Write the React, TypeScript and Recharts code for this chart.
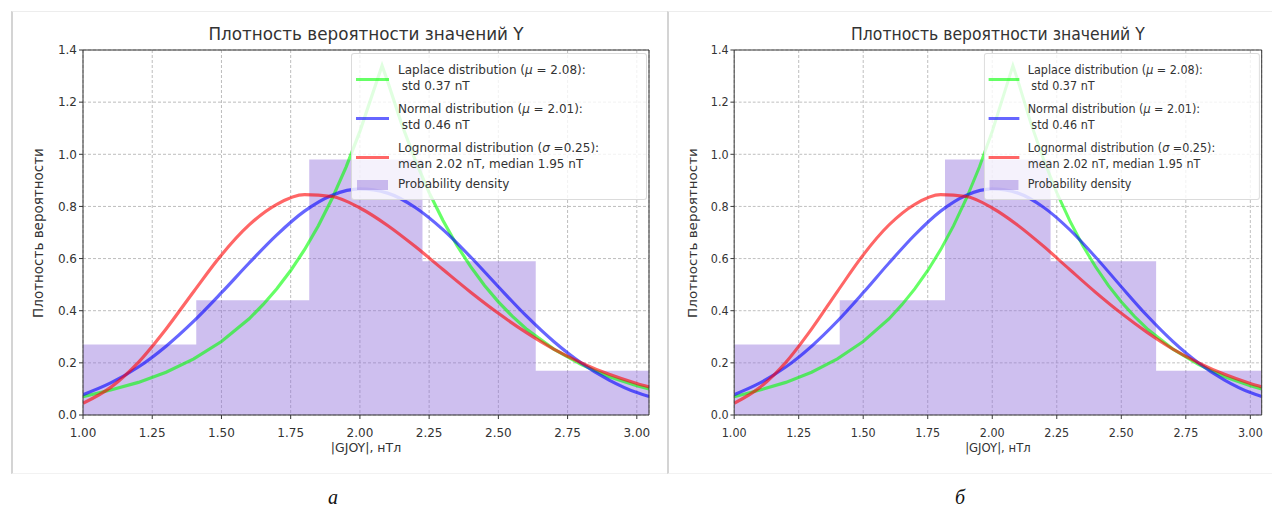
import React from 'react';
import { ComposedChart, Area, Line, XAxis, YAxis, CartesianGrid, ReferenceLine } from 'recharts';

// histogram (bin edges + density)
const histEdges = [1.0, 1.409, 1.817, 2.226, 2.635, 3.044];
const histDensity = [0.27, 0.44, 0.98, 0.59, 0.17];

// normal / lognormal curves
const curveX = [1.0, 1.1, 1.2, 1.3, 1.4, 1.5, 1.6, 1.7, 1.8, 1.9, 2.0, 2.1, 2.2, 2.3, 2.4, 2.5, 2.6, 2.7, 2.8, 2.9, 3.0, 3.044];
const normalY = [0.078, 0.123, 0.184, 0.264, 0.36, 0.469, 0.583, 0.691, 0.782, 0.843, 0.867, 0.851, 0.796, 0.711, 0.606, 0.492, 0.381, 0.282, 0.199, 0.134, 0.086, 0.071];
const lognormalY = [0.045, 0.106, 0.202, 0.33, 0.474, 0.614, 0.729, 0.808, 0.845, 0.838, 0.794, 0.727, 0.646, 0.558, 0.471, 0.39, 0.317, 0.253, 0.2, 0.156, 0.121, 0.108];

// laplace has a sharp peak, so it gets its own x points
const laplaceX = [1.0, 1.1, 1.2, 1.3, 1.4, 1.5, 1.6, 1.65, 1.7, 1.75, 1.8, 1.85, 1.9, 1.95, 2.0, 2.05, 2.08, 2.1, 2.15, 2.2, 2.25, 2.3, 2.35, 2.4, 2.45, 2.5, 2.55, 2.6, 2.7, 2.8, 2.9, 3.0, 3.044];
const laplaceY = [0.07, 0.096, 0.125, 0.164, 0.215, 0.282, 0.369, 0.423, 0.484, 0.554, 0.634, 0.726, 0.831, 0.951, 1.088, 1.246, 1.34, 1.28, 1.118, 0.977, 0.853, 0.746, 0.651, 0.569, 0.497, 0.434, 0.379, 0.331, 0.253, 0.193, 0.147, 0.112, 0.1];

const xTicks = [1.0, 1.25, 1.5, 1.75, 2.0, 2.25, 2.5, 2.75, 3.0];
const yTicks = [0, 0.2, 0.4, 0.6, 0.8, 1.0, 1.2, 1.4];

const title = 'Плотность вероятности значений Y';
const xLabel = '|GJOY|, нТл';
const yLabel = 'Плотность вероятности';

type Row = { x: number; laplace?: number; normal?: number; lognormal?: number; hist?: number };

function buildRows(): Row[] {
  const m = new Map<string, Row>();
  const get = (x: number) => {
    const k = x.toFixed(3);
    let r = m.get(k);
    if (!r) {
      r = { x };
      m.set(k, r);
    }
    return r;
  };
  curveX.forEach((x, i) => {
    get(x).normal = normalY[i];
    get(x).lognormal = lognormalY[i];
  });
  laplaceX.forEach((x, i) => {
    get(x).laplace = laplaceY[i];
  });
  histEdges.forEach((x) => get(x));
  const rows = [...m.values()].sort((a, b) => a.x - b.x);
  rows.forEach((r) => {
    let idx = histDensity.findIndex((_, j) => r.x >= histEdges[j] && r.x < histEdges[j + 1]);
    if (idx < 0) idx = histDensity.length - 1;
    r.hist = histDensity[idx];
  });
  return rows;
}

const rows = buildRows();

const FONT = '"DejaVu Sans", sans-serif';
const TXT = '#333';

const legendItems = [
  { color: 'rgba(0,255,0,0.6)', lines: [<>Laplace distribution (<i>μ</i> = 2.08):</>, <>&nbsp;std 0.37 nT</>], cy: 25 },
  { color: 'rgba(0,0,255,0.6)', lines: [<>Normal distribution (<i>μ</i> = 2.01):</>, <>&nbsp;std 0.46 nT</>], cy: 64 },
  { color: 'rgba(255,0,0,0.6)', lines: [<>Lognormal distribution (<i>σ</i> =0.25):</>, <>mean 2.02 nT, median 1.95 nT</>], cy: 103 },
  { color: 'patch', lines: [<>Probability density</>], cy: 131 },
];

function Panel({ left, scale }: { left: number; scale: number }) {
  const W = 656;
  const H = 460;
  return (
    <div
      style={{
        position: 'absolute',
        left,
        top: 12,
        width: W,
        height: H,
        transform: `scaleX(${scale})`,
        transformOrigin: 'left top',
        fontFamily: FONT,
      }}
    >
      <ComposedChart width={W} height={H} data={rows} margin={{ top: 38, right: 19, bottom: 27, left: 0 }}>
        <CartesianGrid stroke="#bdbdbd" strokeDasharray="3 2" />
        <XAxis
          dataKey="x"
          type="number"
          domain={[1, 3.044]}
          ticks={xTicks}
          allowDataOverflow
          tickFormatter={(v: number) => v.toFixed(2)}
          tick={{ fill: TXT, fontSize: 12, fontFamily: FONT }}
          tickSize={4}
          tickMargin={9}
          height={30}
          stroke="#333"
        />
        <YAxis
          type="number"
          domain={[0, 1.4]}
          ticks={yTicks}
          allowDataOverflow
          tickFormatter={(v: number) => v.toFixed(1)}
          tick={{ fill: TXT, fontSize: 12, fontFamily: FONT }}
          tickSize={4}
          width={71}
          stroke="#333"
        />
        <Area dataKey="hist" type="stepAfter" stroke="none" fill="#9370db" fillOpacity={0.45} isAnimationActive={false} />
        <Line dataKey="laplace" type="linear" stroke="#00ff00" strokeOpacity={0.6} strokeWidth={3.2} dot={false} connectNulls isAnimationActive={false} />
        <Line dataKey="normal" type="monotone" stroke="#0000ff" strokeOpacity={0.6} strokeWidth={3.2} dot={false} connectNulls isAnimationActive={false} />
        <Line dataKey="lognormal" type="monotone" stroke="#ff0000" strokeOpacity={0.6} strokeWidth={3.2} dot={false} connectNulls isAnimationActive={false} />
        <ReferenceLine y={1.4} stroke="#333" />
        <ReferenceLine x={3.044} stroke="#333" />
      </ComposedChart>

      <div style={{ position: 'absolute', left: 71, width: 566, top: 12, textAlign: 'center', fontSize: 16.8, color: TXT }}>
        {title}
      </div>
      <div style={{ position: 'absolute', left: 71, width: 566, top: 428, textAlign: 'center', fontSize: 12.5, color: TXT }}>
        {xLabel}
      </div>
      <div
        style={{
          position: 'absolute',
          left: 26,
          top: 221,
          transform: 'translate(-50%, -50%) rotate(-90deg)',
          whiteSpace: 'nowrap',
          fontSize: 13.5,
          color: TXT,
        }}
      >
        {yLabel}
      </div>

      {/* legend box drawn over the plot like matplotlib does */}
      <div
        style={{
          position: 'absolute',
          left: 339,
          top: 41,
          width: 294,
          height: 145,
          background: 'rgba(255,255,255,0.8)',
          border: '1px solid rgba(210,210,210,0.8)',
          borderRadius: 3,
          fontSize: 12,
          color: TXT,
        }}
      >
        {legendItems.map((it, i) => (
          <div key={i}>
            {it.color === 'patch' ? (
              <div style={{ position: 'absolute', left: 5, top: it.cy - 5, width: 31, height: 10, background: '#9370db', opacity: 0.45 }} />
            ) : (
              <div style={{ position: 'absolute', left: 4, top: it.cy - 1.5, width: 33, height: 3, background: it.color }} />
            )}
            <div
              style={{
                position: 'absolute',
                left: 46,
                top: it.cy - (it.lines.length * 16) / 2 - 1,
                lineHeight: '16px',
                whiteSpace: 'nowrap',
              }}
            >
              {it.lines.map((l, j) => (
                <div key={j}>{l}</div>
              ))}
            </div>
          </div>
        ))}
      </div>
    </div>
  );
}

export default function App() {
  return (
    <div style={{ position: 'absolute', left: 0, top: 0, width: 1272, height: 508, background: '#fff', overflow: 'hidden' }}>
      {/* panel frames */}
      <div style={{ position: 'absolute', left: 11, top: 11, width: 657, height: 461, borderLeft: '2px solid #d4d4d4', borderTop: '1px solid #ededed', borderBottom: '1px solid #f2f2f2' }} />
      <div style={{ position: 'absolute', left: 667, top: 11, width: 610, height: 461, borderLeft: '2px solid #d4d4d4', borderTop: '1px solid #ededed', borderBottom: '1px solid #f2f2f2' }} />

      <Panel left={12} scale={1} />
      <Panel left={668} scale={0.932} />

      <div style={{ position: 'absolute', left: 333, top: 497, transform: 'translate(-50%, -50%)', fontFamily: '"Liberation Serif", serif', fontStyle: 'italic', fontSize: 20, color: '#111' }}>
        а
      </div>
      <div style={{ position: 'absolute', left: 960, top: 497, transform: 'translate(-50%, -50%)', fontFamily: '"Liberation Serif", serif', fontStyle: 'italic', fontSize: 20, color: '#111' }}>
        б
      </div>
    </div>
  );
}
